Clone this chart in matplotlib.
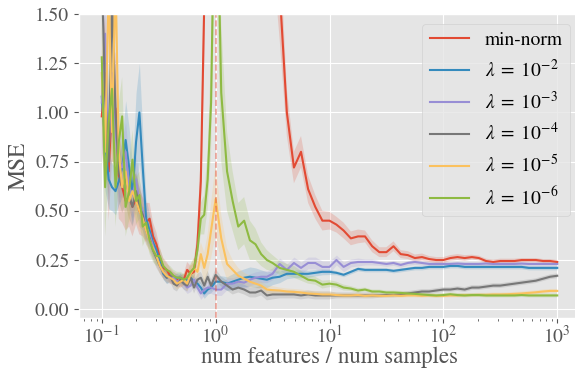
import matplotlib
matplotlib.use('Agg')
import matplotlib.pyplot as plt
from matplotlib.ticker import FormatStrFormatter
import numpy as np

# ratio num features / num samples (shared grid for all curves)
ratio = [0.100, 0.107, 0.115, 0.123, 0.132, 0.141, 0.151, 0.162, 0.174, 0.186,
         0.200, 0.214, 0.229, 0.245, 0.263, 0.282, 0.302, 0.324, 0.347, 0.372,
         0.398, 0.427, 0.457, 0.490, 0.525, 0.562, 0.603, 0.646, 0.692, 0.741,
         0.794, 0.851, 0.912, 1.000,
         1.12, 1.26, 1.41, 1.58, 1.78, 2.00, 2.24, 2.51, 2.82, 3.16,
         3.65, 4.22, 4.87, 5.62, 6.49, 7.50, 8.66, 10.0, 11.5, 13.3,
         15.4, 17.8, 20.5, 23.7, 27.4, 31.6, 36.5, 42.2, 48.7, 56.2,
         64.9, 75.0, 86.6, 100, 115, 133, 154, 178, 205, 237,
         274, 316, 365, 422, 487, 562, 649, 750, 866, 1000]

labels = ['min-norm', r'$\lambda \;=\; 10^{-2}$', r'$\lambda \;=\; 10^{-3}$',
          r'$\lambda \;=\; 10^{-4}$', r'$\lambda \;=\; 10^{-5}$', r'$\lambda \;=\; 10^{-6}$']

mse_minnorm = [0.98, 1.20, 0.70, 1.05, 1.02, 0.68, 0.62, 0.55, 0.57, 0.52,
               0.56, 0.50, 0.47, 0.44, 0.46, 0.37, 0.33, 0.26, 0.21, 0.20,
               0.17, 0.16, 0.15, 0.14, 0.15, 0.20, 0.18, 0.19, 0.33, 0.65,
               1.55, 3.0, 6.0, 10.0,
               9.0, 7.0, 6.0, 5.0, 4.5, 4.0, 3.5, 3.0, 2.6, 2.2,
               1.62, 1.00, 0.72, 0.80, 0.61, 0.52, 0.45, 0.45, 0.43, 0.40,
               0.36, 0.37, 0.37, 0.32, 0.29, 0.29, 0.32, 0.28, 0.275, 0.26,
               0.265, 0.255, 0.25, 0.25, 0.26, 0.265, 0.26, 0.265, 0.26, 0.245,
               0.24, 0.245, 0.245, 0.245, 0.25, 0.25, 0.25, 0.245, 0.245, 0.24]
std_minnorm = [0.25, 0.30, 0.25, 0.30, 0.28, 0.22, 0.18, 0.15, 0.15, 0.15,
               0.13, 0.12, 0.10, 0.10, 0.08, 0.07, 0.06, 0.05, 0.05, 0.04,
               0.04, 0.03, 0.03, 0.03, 0.03, 0.04, 0.04, 0.05, 0.08, 0.15,
               0.30, 0.50, 1.0, 1.5,
               1.5, 1.3, 1.2, 1.0, 0.9, 0.8, 0.7, 0.6, 0.5, 0.4,
               0.25, 0.12, 0.08, 0.08, 0.07, 0.06, 0.05, 0.045, 0.04, 0.04,
               0.035, 0.035, 0.03, 0.03, 0.025, 0.025, 0.025, 0.02, 0.02, 0.018,
               0.018, 0.015, 0.015, 0.015, 0.015, 0.015, 0.015, 0.012, 0.012, 0.012,
               0.012, 0.012, 0.012, 0.012, 0.01, 0.01, 0.01, 0.01, 0.01, 0.01]

mse_l2 = [1.08, 0.85, 0.66, 0.62, 0.60, 0.65, 0.72, 0.86, 0.72, 0.58,
          0.85, 1.00, 0.72, 0.46, 0.40, 0.34, 0.30, 0.24, 0.18, 0.16,
          0.17, 0.15, 0.16, 0.16, 0.15, 0.15, 0.16, 0.14, 0.13, 0.11,
          0.08, 0.10, 0.11, 0.14,
          0.14, 0.13, 0.14, 0.15, 0.16, 0.165, 0.16, 0.155, 0.15, 0.16,
          0.165, 0.18, 0.18, 0.18, 0.18, 0.185, 0.19, 0.19, 0.185, 0.175,
          0.19, 0.205, 0.20, 0.20, 0.20, 0.20, 0.195, 0.20, 0.205, 0.21,
          0.21, 0.215, 0.215, 0.215, 0.22, 0.22, 0.215, 0.215, 0.215, 0.215,
          0.215, 0.215, 0.215, 0.215, 0.215, 0.21, 0.21, 0.21, 0.21, 0.21]
std_l2 = [0.25, 0.25, 0.15, 0.12, 0.12, 0.12, 0.15, 0.20, 0.20, 0.15,
          0.25, 0.25, 0.18, 0.10, 0.08, 0.07, 0.05, 0.04, 0.03, 0.03,
          0.03, 0.025, 0.025, 0.025, 0.025, 0.025, 0.025, 0.025, 0.025, 0.025,
          0.025, 0.025, 0.025, 0.03,
          0.03, 0.035, 0.04, 0.045, 0.045, 0.05, 0.05, 0.045, 0.04, 0.035,
          0.03, 0.025, 0.02, 0.02, 0.018, 0.016, 0.015, 0.014, 0.01, 0.01,
          0.01, 0.01, 0.01, 0.01, 0.01, 0.01, 0.01, 0.01, 0.01, 0.01,
          0.01, 0.01, 0.01, 0.01, 0.01, 0.01, 0.01, 0.01, 0.01, 0.01,
          0.01, 0.01, 0.01, 0.01, 0.01, 0.01, 0.01, 0.01, 0.01, 0.01]

mse_l3 = [1.05, 1.40, 0.80, 1.20, 0.90, 0.75, 0.72, 0.80, 0.62, 0.58,
          0.66, 0.55, 0.50, 0.42, 0.38, 0.32, 0.27, 0.22, 0.19, 0.17,
          0.16, 0.16, 0.14, 0.15, 0.13, 0.11, 0.12, 0.15, 0.11, 0.08,
          0.10, 0.11, 0.11, 0.10,
          0.10, 0.13, 0.13, 0.14, 0.135, 0.15, 0.16, 0.165, 0.165, 0.18,
          0.23, 0.20, 0.235, 0.21, 0.235, 0.235, 0.215, 0.215, 0.25, 0.215,
          0.235, 0.24, 0.24, 0.24, 0.235, 0.23, 0.235, 0.225, 0.235, 0.24,
          0.235, 0.23, 0.23, 0.23, 0.23, 0.232, 0.23, 0.23, 0.23, 0.232,
          0.23, 0.23, 0.23, 0.23, 0.232, 0.23, 0.23, 0.23, 0.23, 0.23]
std_l3 = [0.30, 0.30, 0.25, 0.25, 0.20, 0.18, 0.15, 0.15, 0.12, 0.12,
          0.12, 0.10, 0.10, 0.08, 0.07, 0.06, 0.05, 0.04, 0.035, 0.03,
          0.03, 0.03, 0.03, 0.03, 0.03, 0.03, 0.03, 0.03, 0.03, 0.03,
          0.03, 0.03, 0.03, 0.03,
          0.03, 0.03, 0.03, 0.03, 0.03, 0.03, 0.03, 0.03, 0.03, 0.03,
          0.03, 0.03, 0.03, 0.03, 0.03, 0.03, 0.03, 0.03, 0.025, 0.025,
          0.02, 0.02, 0.015, 0.015, 0.012, 0.012, 0.012, 0.012, 0.012, 0.012,
          0.012, 0.012, 0.012, 0.012, 0.012, 0.012, 0.012, 0.012, 0.012, 0.012,
          0.012, 0.012, 0.012, 0.012, 0.012, 0.012, 0.012, 0.012, 0.012, 0.012]

mse_l4 = [1.70, 1.10, 0.75, 1.60, 1.00, 0.70, 0.62, 0.66, 0.58, 0.52,
          0.60, 0.52, 0.48, 0.40, 0.36, 0.30, 0.26, 0.22, 0.19, 0.16,
          0.17, 0.13, 0.12, 0.15, 0.13, 0.12, 0.16, 0.11, 0.15, 0.16,
          0.12, 0.165, 0.12, 0.175,
          0.14, 0.12, 0.10, 0.11, 0.10, 0.085, 0.085, 0.095, 0.07, 0.075,
          0.075, 0.075, 0.075, 0.07, 0.075, 0.07, 0.07, 0.07, 0.07, 0.07,
          0.07, 0.07, 0.07, 0.07, 0.07, 0.072, 0.072, 0.075, 0.08, 0.085,
          0.09, 0.09, 0.095, 0.10, 0.10, 0.105, 0.10, 0.11, 0.11, 0.115,
          0.12, 0.12, 0.125, 0.13, 0.135, 0.14, 0.145, 0.155, 0.165, 0.17]
std_l4 = [0.30, 0.25, 0.20, 0.30, 0.20, 0.15, 0.13, 0.13, 0.12, 0.10,
          0.10, 0.10, 0.08, 0.07, 0.06, 0.05, 0.05, 0.04, 0.035, 0.03,
          0.03, 0.03, 0.03, 0.03, 0.03, 0.03, 0.03, 0.03, 0.03, 0.03,
          0.03, 0.03, 0.03, 0.03,
          0.025, 0.025, 0.025, 0.025, 0.025, 0.025, 0.025, 0.025, 0.025, 0.025,
          0.02, 0.02, 0.02, 0.02, 0.02, 0.02, 0.02, 0.02, 0.015, 0.015,
          0.015, 0.015, 0.015, 0.015, 0.012, 0.012, 0.012, 0.012, 0.012, 0.012,
          0.012, 0.012, 0.012, 0.012, 0.012, 0.012, 0.012, 0.012, 0.012, 0.012,
          0.012, 0.012, 0.012, 0.012, 0.012, 0.012, 0.012, 0.012, 0.012, 0.012]

mse_l5 = [1.20, 0.80, 1.65, 0.90, 1.70, 0.80, 0.62, 0.70, 0.55, 0.60,
          0.55, 0.50, 0.46, 0.40, 0.35, 0.31, 0.27, 0.22, 0.19, 0.17,
          0.16, 0.15, 0.13, 0.14, 0.15, 0.13, 0.18, 0.21, 0.19, 0.28,
          0.21, 0.28, 0.40, 0.56,
          0.36, 0.23, 0.20, 0.17, 0.155, 0.14, 0.13, 0.12, 0.10, 0.097,
          0.095, 0.09, 0.088, 0.085, 0.08, 0.078, 0.075, 0.075, 0.072, 0.07,
          0.07, 0.072, 0.068, 0.07, 0.068, 0.068, 0.07, 0.068, 0.07, 0.07,
          0.068, 0.07, 0.068, 0.068, 0.07, 0.07, 0.072, 0.072, 0.073, 0.073,
          0.075, 0.075, 0.076, 0.078, 0.08, 0.083, 0.086, 0.09, 0.093, 0.093]
std_l5 = [0.25, 0.20, 0.30, 0.20, 0.30, 0.15, 0.13, 0.13, 0.12, 0.10,
          0.10, 0.10, 0.08, 0.07, 0.06, 0.05, 0.05, 0.04, 0.035, 0.03,
          0.03, 0.03, 0.03, 0.03, 0.03, 0.04, 0.05, 0.05, 0.06, 0.06,
          0.08, 0.10, 0.14, 0.18,
          0.12, 0.08, 0.05, 0.04, 0.03, 0.03, 0.02, 0.02, 0.02, 0.02,
          0.015, 0.015, 0.015, 0.015, 0.015, 0.015, 0.015, 0.015, 0.012, 0.012,
          0.012, 0.012, 0.012, 0.012, 0.01, 0.01, 0.01, 0.01, 0.01, 0.01,
          0.01, 0.01, 0.01, 0.01, 0.01, 0.01, 0.01, 0.01, 0.01, 0.01,
          0.01, 0.01, 0.01, 0.01, 0.01, 0.01, 0.01, 0.01, 0.01, 0.01]

mse_l6 = [1.28, 0.62, 0.95, 1.12, 0.62, 0.85, 0.98, 0.52, 0.60, 0.76,
          0.55, 0.58, 0.42, 0.44, 0.35, 0.30, 0.27, 0.27, 0.22, 0.20,
          0.19, 0.17, 0.16, 0.16, 0.15, 0.16, 0.19, 0.21, 0.30, 0.46,
          0.48, 0.66, 1.05, 2.50,
          1.10, 0.70, 0.55, 0.42, 0.45, 0.35, 0.33, 0.28, 0.25, 0.235,
          0.21, 0.20, 0.19, 0.17, 0.15, 0.145, 0.125, 0.13, 0.125, 0.11,
          0.105, 0.095, 0.10, 0.09, 0.09, 0.085, 0.085, 0.083, 0.08, 0.078,
          0.075, 0.072, 0.07, 0.072, 0.076, 0.072, 0.07, 0.072, 0.072, 0.07,
          0.07, 0.07, 0.07, 0.07, 0.072, 0.07, 0.07, 0.07, 0.07, 0.07]
std_l6 = [0.30, 0.25, 0.25, 0.30, 0.20, 0.20, 0.20, 0.15, 0.15, 0.15,
          0.12, 0.12, 0.10, 0.08, 0.07, 0.06, 0.05, 0.04, 0.035, 0.03,
          0.03, 0.03, 0.03, 0.03, 0.03, 0.03, 0.04, 0.05, 0.06, 0.08,
          0.10, 0.15, 0.25, 0.60,
          0.35, 0.20, 0.15, 0.12, 0.12, 0.10, 0.08, 0.06, 0.05, 0.04,
          0.035, 0.03, 0.03, 0.025, 0.02, 0.02, 0.02, 0.018, 0.015, 0.015,
          0.012, 0.012, 0.01, 0.01, 0.01, 0.01, 0.01, 0.01, 0.01, 0.01,
          0.01, 0.01, 0.01, 0.01, 0.01, 0.01, 0.01, 0.01, 0.01, 0.01,
          0.01, 0.01, 0.01, 0.01, 0.01, 0.01, 0.01, 0.01, 0.01, 0.01]

means = [mse_minnorm, mse_l2, mse_l3, mse_l4, mse_l5, mse_l6]
stds = [std_minnorm, std_l2, std_l3, std_l4, std_l5, std_l6]

plt.style.use('ggplot')
plt.rcParams['font.family'] = 'STIXGeneral'
plt.rcParams['mathtext.fontset'] = 'stix'

fig, ax = plt.subplots(figsize=(5.75, 3.69), dpi=100)
# the axes run a little past the right edge of the picture, as in the original
fig.subplots_adjust(left=0.1374, right=1.0087, top=0.962, bottom=0.138)

x = np.array(ratio)
for m, s, lab in zip(means, stds, labels):
    m = np.array(m)
    s = np.array(s)
    line, = ax.plot(x, m, lw=1.5, label=lab)
    ax.fill_between(x, m - s, m + s, color=line.get_color(), alpha=0.2, lw=0)

ax.axvline(1.0, ls='--', color='#E24A33', alpha=0.5, lw=1.2)

ax.set_xscale('log')
ax.set_ylim(-0.045, 1.5)
ax.yaxis.set_major_formatter(FormatStrFormatter('%.2f'))
ax.tick_params(labelsize=14)
ax.tick_params(axis='x', which='major', pad=1.5)
ax.set_xlabel('num features / num samples', fontsize=16.5, labelpad=0)
ax.set_ylabel('MSE', fontsize=17)
ax.legend(loc='upper right', fontsize=14)

fig.savefig('out.png', dpi=100)
